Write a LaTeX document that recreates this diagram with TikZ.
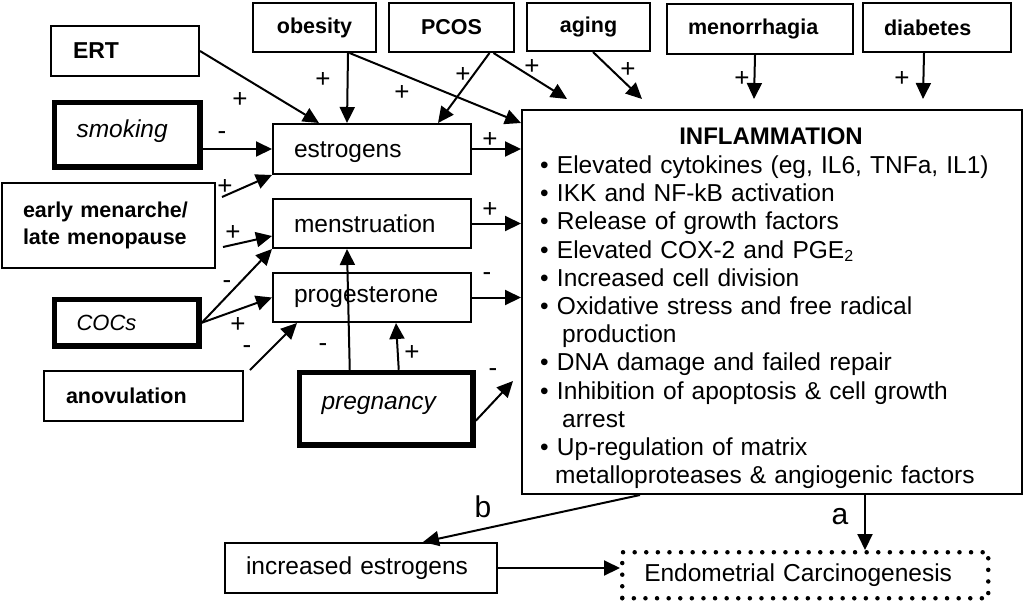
\documentclass[tikz,border=0pt]{standalone}
\usepackage{fontspec}
\setmainfont{Liberation Sans}
\usetikzlibrary{arrows.meta}
\begin{document}
\begin{tikzpicture}[x=1pt,y=-1pt,
  bx/.style={draw, line width=2pt, anchor=north west, inner ysep=0pt, align=left, font=\fontsize{24.5}{28}\selectfont},
  tbx/.style={bx, line width=5.5pt, font=\fontsize{24.5}{28}\selectfont\itshape},
  bbx/.style={bx, font=\fontsize{21.5}{27}\selectfont\bfseries},
  dbx/.style={bx, line width=4.5pt, dash pattern=on 0pt off 11.6pt, line cap=round},
  arr/.style={line width=2pt, -{Triangle[length=16pt,width=15pt]}},
  sg/.style={font=\fontsize{26}{28}\selectfont, inner sep=0pt},
  ab/.style={font=\fontsize{30}{34}\selectfont, inner sep=0pt},
]
\useasboundingbox[fill=white] (0,0) rectangle (1024,603);

% top row
\node[bbx, text width=104pt, inner xsep=22pt, minimum height=50pt] (ert) at (50,25) {\fontsize{23}{27}\selectfont ERT};
\node[bbx, align=center, text width=113pt, inner xsep=5pt, minimum height=49pt] (obes) at (252,2) {obesity};
\node[bbx, align=center, text width=115pt, inner xsep=5pt, minimum height=49pt] (pcos) at (388,2) {PCOS};
\node[bbx, align=center, text width=113pt, inner xsep=5pt, minimum height=48pt] (aging) at (526,2) {aging};
\node[bbx, text width=144pt, inner xsep=21pt, minimum height=50pt] (menor) at (666,3) {menorrhagia};
\node[bbx, text width=106pt, inner xsep=21pt, minimum height=49pt] (diab) at (862,2) {diabetes};

% left column
\node[tbx, text width=101.5pt, inner xsep=22pt, minimum height=64.5pt] (smok) at (51.75,99.75) {\raisebox{4pt}[\height][\depth]{smoking}};
\node[bbx, text width=171pt, inner xsep=21pt, minimum height=85pt] (early) at (1,182) {early menarche/\\late menopause};
\node[tbx, text width=100.5pt, inner xsep=22pt, minimum height=46.5pt, font=\fontsize{22}{26}\selectfont\itshape] (cocs) at (51.75,296.75) {COCs};
\node[bbx, text width=155pt, inner xsep=22pt, minimum height=50pt] (anov) at (43,370) {anovulation};

% middle column
\node[bx, text width=156pt, inner xsep=21pt, minimum height=50pt] (estro) at (272,123) {\raisebox{-3pt}[\height][\depth]{estrogens}};
\node[bx, text width=156pt, inner xsep=21pt, minimum height=49pt] (menst) at (272,198) {menstruation};
\node[bx, text width=156pt, inner xsep=21pt, minimum height=49pt] (prog) at (272,272) {progesterone};
\node[tbx, text width=129.5pt, inner xsep=22pt, minimum height=72.5pt] (preg) at (296.75,369.75) {\raisebox{3pt}[\height][\depth]{pregnancy}};

% inflammation box
\node[bx, minimum width=500pt, minimum height=384pt] (inflam) at (521,109) {};
\node[anchor=base, inner sep=0pt, font=\fontsize{24}{28}\selectfont\bfseries] (ttl) at (771,144) {INFLAMMATION};
\node[anchor=base west, inner sep=0pt, text width=470pt, align=left, font=\fontsize{24.5}{28.2}\selectfont] (body) at (540,173.4) {%
• Elevated cytokines (eg, IL6, TNFa, IL1)\\
• IKK and NF-kB activation\\
• Release of growth factors\\
• Elevated COX-2 and PGE\raisebox{-0.3ex}{\fontsize{16}{16}\selectfont 2}\\
• Increased cell division\\
• Oxidative stress and free radical\\
\hspace*{22pt}production\\
• DNA damage and failed repair\\
• Inhibition of apoptosis \& cell growth\\
\hspace*{22pt}arrest\\
• Up-regulation of matrix\\
\hspace*{15pt}metalloproteases \& angiogenic factors};

% bottom
\node[bx, text width=230pt, inner xsep=21pt, minimum height=50pt] (incr) at (224,542) {increased estrogens};
\node[dbx, text width=322pt, inner xsep=22pt, minimum height=46pt] (endo) at (620,550) {Endometrial Carcinogenesis};

% free ends
\coordinate (t5) at (567,99);
\coordinate (t6) at (642,99);
\coordinate (t7) at (754,99);
\coordinate (t8) at (923,99);
\coordinate (s11) at (222,197);
\coordinate (s12) at (223,247);
\coordinate (t20) at (513,381);

% connectors
\draw[arr] (ert.east) -- ([xshift=47pt]estro.north west);
\draw[arr] ([xshift=33.5pt]obes.south) -- ([xshift=75pt]estro.north west);
\draw[arr] ([xshift=35pt]obes.south) -- ([yshift=-14pt]inflam.north west);
\draw[arr] ([xshift=38pt]pcos.south) -- ([xshift=166pt]estro.north west);
\draw[arr] ([xshift=42pt]pcos.south) -- (t5);
\draw[arr] ([xshift=4.5pt]aging.south) -- (t6);
\draw[arr] ([xshift=-5pt]menor.south) -- (t7);
\draw[arr] ([xshift=-13pt]diab.south) -- (t8);
\draw[arr] (smok.east |- estro.west) -- (estro.west);
\draw[arr] (estro.east) -- (estro.east -| inflam.west);
\draw[arr] (s11) -- (estro.south west);
\draw[arr] (s12) -- ([yshift=13pt]menst.south west);
\draw[arr] (menst.east) -- (menst.east -| inflam.west);
\draw[arr] (cocs.east) -- (menst.south west);
\draw[arr] (cocs.east) -- (prog.west);
\draw[arr] ([xshift=6pt]anov.north east) -- ([xshift=25pt]prog.south west);
\draw[arr] (prog.east) -- (prog.east -| inflam.west);
\draw[arr] ([xshift=-36.5pt]preg.north) -- ([xshift=75pt]menst.south west);
\draw[arr] ([xshift=12.5pt]preg.north) -- ([xshift=124pt]prog.south west);
\draw[arr] ([yshift=-12pt]preg.east) -- (t20);
\draw[arr] ([xshift=119pt]inflam.south west) -- ([xshift=199pt]incr.north west);
\draw[arr] ([xshift=344pt]inflam.south west) -- ([xshift=245pt]endo.north west);
\draw[arr] (incr.east) -- (incr.east -| endo.west);

% signs
\node[sg] (l1) at (240,100) {+};
\node[sg] (l2) at (323,80) {+};
\node[sg] (l3) at (402,93) {+};
\node[sg] (l4) at (463,75) {+};
\node[sg] (l5) at (532,67) {+};
\node[sg] (l6) at (628,70) {+};
\node[sg] (l7) at (742,79) {+};
\node[sg] (l8) at (902,79) {+};
\node[sg] (l9) at (222,136) {-};
\node[sg] (l10) at (490,140) {+};
\node[sg] (l11) at (225,187) {+};
\node[sg] (l12) at (233,233) {+};
\node[sg] (l13) at (490,210) {+};
\node[sg] (l14) at (227,285) {-};
\node[sg] (l15) at (238,325) {+};
\node[sg] (l16) at (247,350) {-};
\node[sg] (l17) at (487,277) {-};
\node[sg] (l18) at (323,348) {-};
\node[sg] (l19) at (412,353) {+};
\node[sg] (l20) at (493,373) {-};
\node[ab] (lb) at (483,507) {b};
\node[ab] (la) at (840,517) {a};
\end{tikzpicture}
\end{document}
